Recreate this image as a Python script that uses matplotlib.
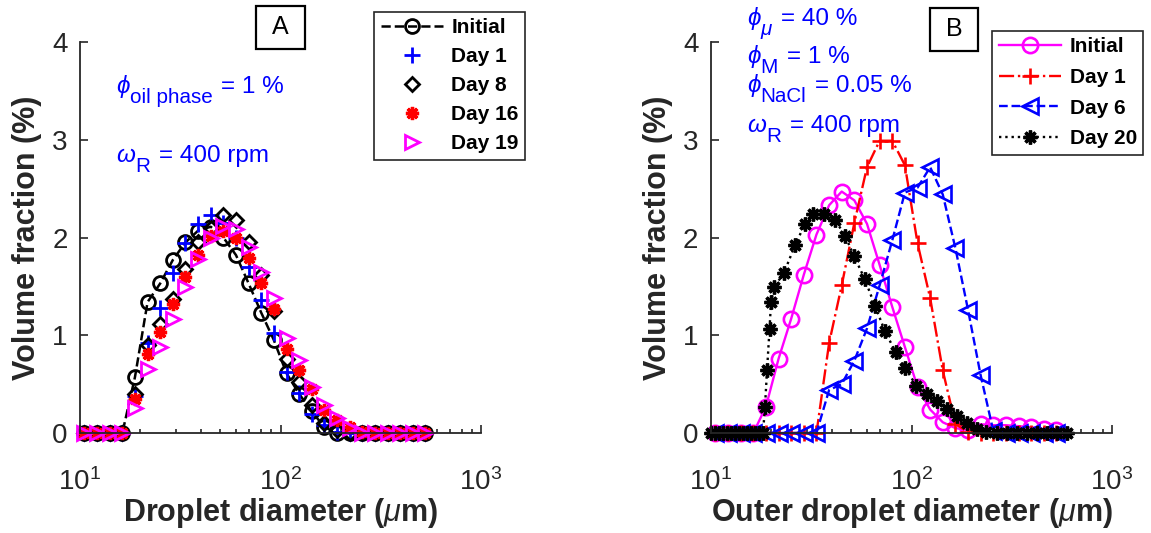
import numpy as np
import matplotlib.pyplot as plt
from matplotlib.patches import Rectangle

plt.rcParams['font.family'] = ['Liberation Sans', 'DejaVu Sans']
plt.rcParams['mathtext.fontset'] = 'custom'
plt.rcParams['mathtext.rm'] = 'Liberation Sans'
plt.rcParams['mathtext.it'] = 'Liberation Sans:italic'
plt.rcParams['mathtext.bf'] = 'Liberation Sans:bold'

# size bins (um)
d = [10.52, 12.16, 14.06, 16.26, 18.79, 21.73, 25.12, 29.04, 33.57, 38.82,
     44.87, 51.88, 59.98, 69.34, 80.17, 92.68, 107.2, 123.9, 143.2, 165.6,
     191.4, 221.3, 255.9, 295.8, 342.0, 395.4, 457.1, 528.4]

# panel A: volume fraction (%)
a_initial = [0, 0, 0, 0, 0.57, 1.34, 1.53, 1.77, 1.95, 2.07, 2.11, 2.00, 1.82, 1.53,
             1.23, 0.95, 0.61, 0.40, 0.22, 0.06, 0, 0, 0, 0, 0, 0, 0, 0]
a_day1 = [0, 0, 0, 0, 0.38, 0.92, 1.28, 1.64, 1.94, 2.14, 2.23, 2.15, 2.00, 1.70,
          1.36, 1.02, 0.62, 0.41, 0.19, 0.08, 0.01, 0, 0, 0, 0, 0, 0, 0]
a_day8 = [0, 0, 0, 0, 0.40, 0.90, 1.12, 1.37, 1.68, 1.95, 2.10, 2.23, 2.18, 1.95,
          1.62, 1.25, 0.76, 0.52, 0.29, 0.10, 0.03, 0, 0, 0, 0, 0, 0, 0]
a_day16 = [0, 0, 0, 0, 0.35, 0.81, 1.03, 1.32, 1.60, 1.82, 2.02, 2.07, 2.00, 1.79,
           1.53, 1.27, 0.86, 0.64, 0.45, 0.24, 0.13, 0.06, 0.01, 0, 0, 0, 0, 0]
a_day19 = [0, 0, 0, 0, 0.26, 0.65, 0.88, 1.17, 1.49, 1.78, 2.00, 2.12, 2.09, 1.90,
           1.65, 1.38, 0.97, 0.75, 0.47, 0.29, 0.15, 0.05, 0, 0, 0, 0, 0, 0]

# panel B
b_initial = [0, 0, 0, 0, 0.27, 0.76, 1.17, 1.62, 2.03, 2.33, 2.47, 2.38, 2.14, 1.72,
             1.29, 0.88, 0.47, 0.24, 0.11, 0.05, 0.03, 0.09, 0.08, 0.08, 0.07, 0.06, 0.04, 0.03]
b_day1 = [0, 0, 0, 0, 0, 0, 0, 0, 0, 0.92, 1.51, 2.15, 2.72, 2.99,
          2.99, 2.74, 1.94, 1.38, 0.64, 0.09, 0.01, 0, 0, 0, 0, 0, 0, 0]
b_day6 = [0, 0, 0, 0, 0, 0, 0, 0, 0, 0.44, 0.50, 0.74, 1.07, 1.51,
          1.97, 2.46, 2.51, 2.72, 2.44, 1.89, 1.26, 0.59, 0.02, 0, 0, 0, 0, 0]
d20 = [10.0, 10.47, 10.96, 11.48, 12.02, 12.58, 13.17, 13.79, 14.44, 15.12,
       15.83, 16.58, 17.35, 18.17, 18.59, 19.03, 19.58, 19.92, 20.62, 23.13,
       26.24, 29.44, 32.45, 36.62, 41.55, 46.61, 51.68, 58.31, 65.77, 73.78,
       83.22, 92.81, 105.9, 118.8, 133.3, 149.5, 167.7, 188.1, 211.0, 236.6,
       265.5, 297.8, 334.1, 374.8, 420.4, 471.6, 529.0, 593.3]
b_day20 = [0, 0, 0, 0, 0, 0, 0, 0, 0, 0, 0, 0, 0, 0,
           0.27, 0.64, 1.06, 1.34, 1.49, 1.64, 1.92, 2.14, 2.24, 2.24, 2.18, 2.02,
           1.81, 1.58, 1.30, 1.04, 0.83, 0.67, 0.48, 0.40, 0.33, 0.25, 0.17, 0.10,
           0.04, 0.01, 0, 0, 0, 0, 0, 0, 0, 0]

W, H = 1151, 533
fig = plt.figure(figsize=(W / 100, H / 100), dpi=100)
ax1 = fig.add_axes([80 / W, 100 / H, 401 / W, 391 / H])
ax2 = fig.add_axes([711 / W, 100 / H, 401 / W, 391 / H])

star = (8, 2, 0)
ms = 10
mw = 2.0
ax1.plot(d, a_initial, 'o--', color='k', mfc='none', ms=ms, mew=mw, lw=1.8, label='Initial', clip_on=False)
ax1.plot(d, a_day1, '+', color='b', ms=ms + 1, mew=mw, ls='none', label='Day 1', clip_on=False)
ax1.plot(d, a_day8, 'D', color='k', mfc='none', ms=7.5, mew=mw, ls='none', label='Day 8', clip_on=False)
ax1.plot(d, a_day16, marker=star, color='r', ms=ms - 0.5, mew=2.4, ls='none', label='Day 16', clip_on=False)
ax1.plot(d, a_day19, '>', color='#ff00ff', mfc='none', ms=ms, mew=mw, ls='none', label='Day 19', clip_on=False)

ms2 = 11
ax2.plot(d, b_initial, 'o-', color='#ff00ff', mfc='none', ms=ms2, mew=1.9, lw=1.7, label='Initial', clip_on=False)
ax2.plot(d, b_day1, '+-.', color='r', ms=ms2, mew=1.9, lw=1.7, label='Day 1', clip_on=False)
ax2.plot(d, b_day6, '<--', color='b', mfc='none', ms=ms2 + 1, mew=1.9, lw=1.7, label='Day 6', clip_on=False)
ax2.plot(d20, b_day20, ':', marker=star, color='k', ms=ms, mew=2.4, lw=1.7, label='Day 20', clip_on=False)

for ax in (ax1, ax2):
    ax.set_xscale('log')
    ax.set_xlim(10, 1000)
    ax.set_ylim(0, 4)
    ax.set_yticks([0, 1, 2, 3, 4])
    for s in ('top', 'right'):
        ax.spines[s].set_visible(False)
    for s in ('left', 'bottom'):
        ax.spines[s].set_linewidth(1.3)
        ax.spines[s].set_color('#262626')
    ax.tick_params(which='both', direction='in', top=False, right=False,
                   color='#262626', labelcolor='#262626', labelsize=20, width=1.2)
    ax.tick_params(which='major', length=6)
    ax.tick_params(which='minor', length=3)
    ax.tick_params(axis='y', pad=9)
    ax.tick_params(axis='x', pad=25)
    ax.set_ylabel('Volume fraction (%)', fontsize=22, fontweight='bold', color='#262626')
    ax.yaxis.set_label_coords(-0.095, 0.5)

ax1.set_xlabel(r'Droplet diameter ($\mu$m)', fontsize=22, fontweight='bold', color='#262626')
ax2.set_xlabel(r'Outer droplet diameter ($\mu$m)', fontsize=22, fontweight='bold', color='#262626')
ax1.xaxis.set_label_coords(0.5, -0.16)
ax2.xaxis.set_label_coords(0.5, -0.16)

legkw = dict(loc='upper right', bbox_transform=fig.transFigure, borderaxespad=0,
             fancybox=False, edgecolor='#262626', framealpha=1,
             prop={'weight': 'bold', 'size': 15}, handlelength=3.0,
             handletextpad=0.4, borderpad=0.3)
leg1 = ax1.legend(bbox_to_anchor=(525 / W, 1 - 12 / H), labelspacing=0.48, **legkw)
leg2 = ax2.legend(bbox_to_anchor=(1143 / W, 1 - 31 / H), labelspacing=0.56, **legkw)
for leg in (leg1, leg2):
    leg.get_frame().set_linewidth(1.2)

# panel tags
for lab, x0, y0, x1, y1 in [('A', 256, 6, 305, 49), ('B', 930, 8, 978, 51)]:
    fig.patches.append(Rectangle((x0 / W, 1 - y1 / H), (x1 - x0) / W, (y1 - y0) / H,
                                 transform=fig.transFigure, fill=False,
                                 edgecolor='k', lw=1.6))
    fig.text((x0 + x1) / 2 / W, 1 - (y0 + y1) / 2 / H, lab, fontsize=18,
             ha='center', va='center')

# blue annotations, TeX-like with large lowered subscripts
renderer = fig.canvas.get_renderer()
blue = '#0000ff'


def note(x, y, sym, sub, rest, size=17.5):
    t = fig.text(x / W, 1 - y / H, sym, color=blue, fontsize=size, va='baseline')
    xe = t.get_window_extent(renderer).x1
    t2 = fig.text((xe - 1) / W, 1 - (y + 10) / H, sub, color=blue,
                  fontsize=size * 0.85, va='baseline',
                  style='italic' if sub == '\u03bc' else 'normal')
    xe = t2.get_window_extent(renderer).x1
    fig.text((xe + 9) / W, 1 - y / H, rest, color=blue, fontsize=size, va='baseline')


note(116, 93, r'$\phi$', 'oil phase', '= 1 %')
note(116, 162, r'$\omega$', 'R', '= 400 rpm')
note(747, 25, r'$\phi$', '\u03bc', '= 40 %')
note(747, 63, r'$\phi$', 'M', '= 1 %')
note(747, 92, r'$\phi$', 'NaCl', '= 0.05 %')
note(747, 132, r'$\omega$', 'R', '= 400 rpm')

fig.savefig('out.png', dpi=100)
